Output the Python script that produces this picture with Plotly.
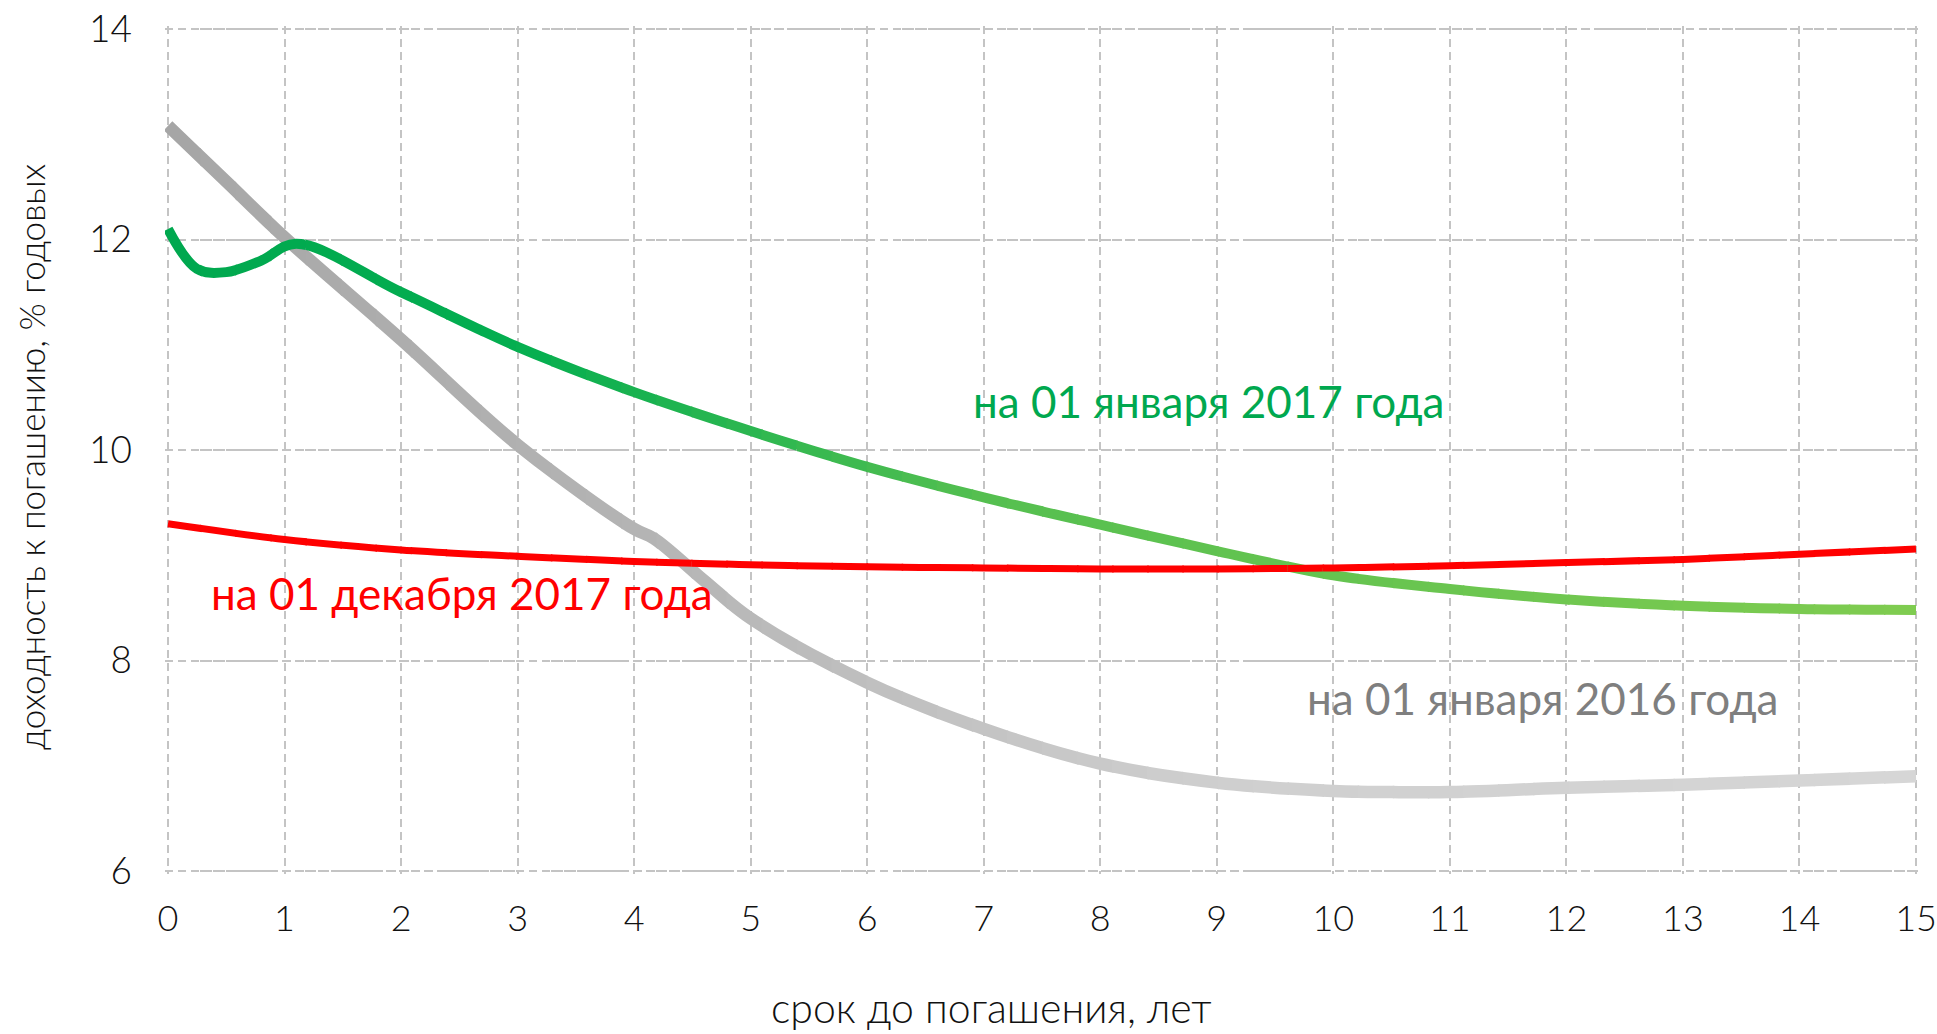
import plotly.graph_objects as go

# ---------------- data ----------------
x_ticks = list(range(0, 16))
y_ticks = [6, 8, 10, 12, 14]

gray_years = [0, 0.5, 1, 2, 3, 4, 4.17, 4.6, 5, 6, 7, 8, 9, 10, 10.5, 11, 12, 13, 14, 15]
gray_yield = [13.08, 12.55, 12.02, 11.05, 10.05, 9.25, 9.16, 8.76, 8.40, 7.79, 7.35,
              7.02, 6.84, 6.76, 6.75, 6.75, 6.79, 6.82, 6.86, 6.90]

green_years = [0, 0.25, 0.5, 0.8, 1.1, 2, 3, 4, 5, 6, 7, 8, 9, 10, 11, 12, 13, 14, 15]
green_yield = [12.10, 11.72, 11.69, 11.80, 11.96, 11.50, 10.98, 10.55, 10.18, 9.84, 9.55,
               9.29, 9.04, 8.81, 8.68, 8.58, 8.52, 8.49, 8.48]

red_years = [0, 1, 2, 3, 4, 5, 6, 7, 8, 9, 10, 11, 12, 13, 14, 15]
red_yield = [9.30, 9.15, 9.05, 8.99, 8.94, 8.91, 8.89, 8.88, 8.87, 8.87, 8.88, 8.90,
             8.93, 8.96, 9.01, 9.06]

label_green = "на 01 января 2017 года"
label_red = "на 01 декабря 2017 года"
label_gray = "на 01 января 2016 года"
x_title = "срок до погашения, лет"
y_title = "доходность к погашению, % годовых"

# ---------------- styling ----------------
W, H = 1937, 1034
PAD = 3  # px of breathing room so the edge grid lines are drawn
PX0, PX1, PY0, PY1 = 168, 1916, 29, 871  # plot box of the x/y ranges 0..15, 6..14
ML, MR, MT, MB = PX0 - PAD, W - PX1 - PAD, PY0 - PAD, H - PY1 - PAD
XMIN, XMAX, YMIN, YMAX = 0, 15, 6, 14
xpad = PAD * (XMAX - XMIN) / (PX1 - PX0)
ypad = PAD * (YMAX - YMIN) / (PY1 - PY0)
XR = [XMIN - xpad, XMAX + xpad]
YR = [YMIN - ypad, YMAX + ypad]

AX_FONT = "Lato Light, Lato, sans-serif"
LBL_FONT = "Lato, Carlito, sans-serif"

gray_stops = [(0, (166, 166, 166)), (4.2, (181, 181, 181)), (9, (207, 207, 207)), (15, (214, 214, 214))]
green_stops = [(0, (0, 168, 79)), (3, (4, 174, 80)), (7, (85, 191, 80)), (15, (128, 204, 80))]


def grad(stops, t):
    t = min(max(t, stops[0][0]), stops[-1][0])
    for (t0, c0), (t1, c1) in zip(stops[:-1], stops[1:]):
        if t0 <= t <= t1:
            f = (t - t0) / (t1 - t0)
            c = [round(a + (b - a) * f) for a, b in zip(c0, c1)]
            return "rgb(%d,%d,%d)" % tuple(c)
    return "rgb(%d,%d,%d)" % stops[-1][1]


fig = go.Figure()
fig.add_trace(go.Scatter(x=[], y=[], showlegend=False, hoverinfo="skip"))

# gradient lines: draw the full curves in narrow clipped strips (own x-axes)
N = 50
plot_w = W - ML - MR
plot_h = H - MT - MB
eps = 1.5 / plot_w
span = XR[1] - XR[0]
layout_axes = {}
for i in range(N):
    a = i / N
    b = min(1.0, (i + 1) / N + eps)
    axid = i + 2
    layout_axes["xaxis%d" % axid] = dict(domain=[a, b], range=[XR[0] + span * a, XR[0] + span * b],
                                         visible=False, anchor="y", fixedrange=True,
                                         automargin=False)
    tm = XR[0] + span * (i + 0.5) / N
    xa = "x%d" % axid
    fig.add_trace(go.Scatter(x=gray_years, y=gray_yield, mode="lines", xaxis=xa, yaxis="y",
                             line=dict(color=grad(gray_stops, tm), width=12.5, shape="spline",
                                       smoothing=1, simplify=False),
                             showlegend=False, hoverinfo="skip"))
    fig.add_trace(go.Scatter(x=green_years, y=green_yield, mode="lines", xaxis=xa, yaxis="y",
                             line=dict(color=grad(green_stops, tm), width=10, shape="spline",
                                       smoothing=1, simplify=False),
                             showlegend=False, hoverinfo="skip"))
    fig.add_trace(go.Scatter(x=red_years, y=red_yield, mode="lines", xaxis=xa, yaxis="y",
                             line=dict(color="#ff0000", width=7, shape="spline",
                                       smoothing=1, simplify=False),
                             showlegend=False, hoverinfo="skip"))

grid = dict(showgrid=True, gridcolor="#c4c4c4", gridwidth=1.5, griddash="8px,5px",
            zeroline=False, showline=False, ticks="", automargin=False)

fig.update_layout(
    width=W, height=H,
    margin=dict(l=ML, r=MR, t=MT, b=MB, autoexpand=False),
    paper_bgcolor="white", plot_bgcolor="rgba(0,0,0,0)",
    showlegend=False,
    xaxis=dict(domain=[0, 1], range=XR, tickvals=x_ticks, ticktext=[str(v) for v in x_ticks],
               tickfont=dict(family=AX_FONT, size=36, color="#111111"),
               ticklabelstandoff=20, anchor="y", fixedrange=True, **grid),
    yaxis=dict(domain=[0, 1], range=YR, tickvals=y_ticks, ticktext=[str(v) for v in y_ticks],
               tickfont=dict(family=AX_FONT, size=37, color="#111111"),
               ticklabelstandoff=32, anchor="x", fixedrange=True, **grid),
    **layout_axes,
)


def px_to_paper(px, py):
    return (px - ML) / plot_w, (H - MB - py) / plot_h


annots = []
gx, gy = px_to_paper(1208, 401)
annots.append(dict(x=gx, y=gy, text=label_green, font=dict(family=LBL_FONT, size=44, color="#00a84f")))
rx, ry = px_to_paper(462, 593)
annots.append(dict(x=rx, y=ry, text=label_red, font=dict(family=LBL_FONT, size=44, color="#ff0000")))
sx, sy = px_to_paper(1542, 698)
annots.append(dict(x=sx, y=sy, text=label_gray, font=dict(family=LBL_FONT, size=44, color="#7f7f7f")))
tx, ty = px_to_paper(991, 1007)
annots.append(dict(x=tx, y=ty, text=x_title, font=dict(family=AX_FONT, size=41, color="#111111")))
yx, yy = px_to_paper(31, 457)
annots.append(dict(x=yx, y=yy, text=y_title, textangle=-90,
                   font=dict(family=AX_FONT, size=35, color="#111111")))
for an in annots:
    an.update(xref="paper", yref="paper", showarrow=False, xanchor="center", yanchor="middle")
fig.update_layout(annotations=annots)

fig.write_html("out.html", config={"displayModeBar": False},
               post_script="document.body.style.margin='0';document.body.style.overflow='hidden';")
